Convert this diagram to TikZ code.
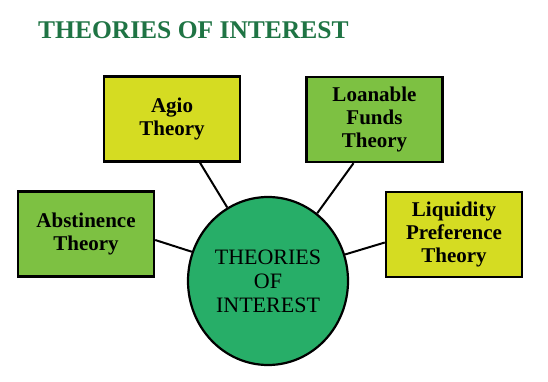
\documentclass[tikz,border=0pt]{standalone}
\usepackage{fontspec}
\setmainfont{Liberation Serif}
\usetikzlibrary{shapes.geometric,calc}
\definecolor{titlegreen}{HTML}{1F7444}
\definecolor{boxyellow}{HTML}{D5DC22}
\definecolor{boxgreen}{HTML}{7DC142}
\definecolor{circgreen}{HTML}{27AE68}
\tikzset{
  theorybox/.style={draw=black, line width=2.4pt, minimum width=136pt, minimum height=85pt, align=center, inner sep=0pt, font=\fontsize{21}{23}\selectfont\bfseries},
  link/.style={line width=2pt, black},
}
\begin{document}
\begin{tikzpicture}[x=1pt,y=-1pt]
\useasboundingbox (0,0) rectangle (548,382);
\fill[white] (0,0) rectangle (548,382);
\node[anchor=west, text=titlegreen, font=\fontsize{25.5}{28}\selectfont\bfseries, inner sep=0pt] (title) at (38,30) {THEORIES OF INTEREST};
\node[theorybox, fill=boxyellow] (agio) at (172,119) {Agio\\Theory};
\node[theorybox, fill=boxgreen] (loan) at (374.5,119.5) {Loanable\\Funds\\Theory};
\node[theorybox, fill=boxgreen] (abst) at (86,234) {Abstinence\\Theory};
\node[theorybox, fill=boxyellow] (liq) at (454,234.5) {Liquidity\\Preference\\Theory};
\node[draw=black, line width=2.2pt, fill=circgreen, ellipse, minimum width=160pt, minimum height=168pt, inner sep=0pt, align=center, font=\fontsize{22}{24}\selectfont] (centre) at (268,281) {THEORIES\\OF\\INTEREST};
\coordinate (agioend) at ($(agio.south)+(28,0)$);
\coordinate (loanend) at ($(loan.south)+(-21,0)$);
\coordinate (abstend) at ($(abst.east)+(0,6)$);
\coordinate (liqend) at ($(liq.west)+(0,8)$);
\draw[link] (agioend) -- (centre.119);
\draw[link] (loanend) -- (centre.54);
\draw[link] (abstend) -- (centre.159);
\draw[link] (liqend) -- (centre.19);
\end{tikzpicture}
\end{document}
